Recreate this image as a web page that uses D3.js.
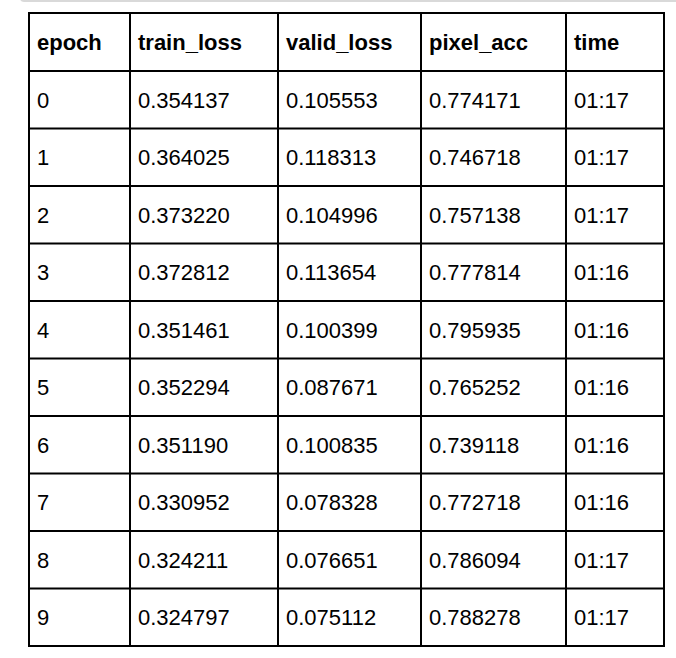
<!DOCTYPE html>
<html>
<head>
<meta charset="utf-8">
<script src="https://cdn.jsdelivr.net/npm/d3@7"></script>
<style>
body { margin: 0; background: #fff; }
text { font-family: "Liberation Sans", Arial, sans-serif; font-size: 22px; fill: #000; }
</style>
</head>
<body>
<div id="chart"></div>
<script>
var columns = ["epoch", "train_loss", "valid_loss", "pixel_acc", "time"];
var epoch = ["0", "1", "2", "3", "4", "5", "6", "7", "8", "9"];
var trainLoss = ["0.354137", "0.364025", "0.373220", "0.372812", "0.351461", "0.352294", "0.351190", "0.330952", "0.324211", "0.324797"];
var validLoss = ["0.105553", "0.118313", "0.104996", "0.113654", "0.100399", "0.087671", "0.100835", "0.078328", "0.076651", "0.075112"];
var pixelAcc = ["0.774171", "0.746718", "0.757138", "0.777814", "0.795935", "0.765252", "0.739118", "0.772718", "0.786094", "0.788278"];
var time = ["01:17", "01:17", "01:17", "01:16", "01:16", "01:16", "01:16", "01:16", "01:17", "01:17"];

var width = 676, height = 658;
var edges = [29, 130, 278, 421, 566, 664];
var tableTop = 13, headH = 58, tableBottom = 646;

var rows = epoch.map(function(e, i) {
  return [e, trainLoss[i], validLoss[i], pixelAcc[i], time[i]];
});

var svg = d3.select("#chart").append("svg")
  .attr("width", width)
  .attr("height", height);

// top grey strip
svg.append("rect")
  .attr("x", 20).attr("y", -6).attr("width", 680).attr("height", 8)
  .attr("rx", 4).attr("fill", "#d9d9d9");

var y = d3.scaleBand()
  .domain(d3.range(rows.length))
  .range([tableTop + headH, tableBottom]);

var g = svg.append("g");

// header
g.selectAll(".head")
  .data(columns)
  .enter().append("text")
  .attr("class", "head")
  .attr("x", function(d, i) { return edges[i] + 8; })
  .attr("y", tableTop + headH / 2 + 8)
  .attr("font-weight", "bold")
  .text(function(d) { return d; });

// body cells
var row = g.selectAll(".row")
  .data(rows)
  .enter().append("g")
  .attr("class", "row")
  .attr("transform", function(d, i) { return "translate(0," + y(i) + ")"; });

row.selectAll("text")
  .data(function(d) { return d; })
  .enter().append("text")
  .attr("x", function(d, i) { return edges[i] + 8; })
  .attr("y", y.bandwidth() / 2 + 8)
  .text(function(d) { return d; });

// grid lines
var hLines = [tableTop, tableTop + headH].concat(d3.range(rows.length).map(function(i) { return y(i) + y.bandwidth(); }));
g.selectAll(".hl")
  .data(hLines)
  .enter().append("line")
  .attr("class", "hl")
  .attr("x1", edges[0] - 1).attr("x2", edges[edges.length - 1] + 1)
  .attr("y1", function(d) { return d; }).attr("y2", function(d) { return d; })
  .attr("stroke", "#000").attr("stroke-width", 2);

g.selectAll(".vl")
  .data(edges)
  .enter().append("line")
  .attr("class", "vl")
  .attr("x1", function(d) { return d; }).attr("x2", function(d) { return d; })
  .attr("y1", tableTop).attr("y2", tableBottom)
  .attr("stroke", "#000").attr("stroke-width", 2);
</script>
</body>
</html>
